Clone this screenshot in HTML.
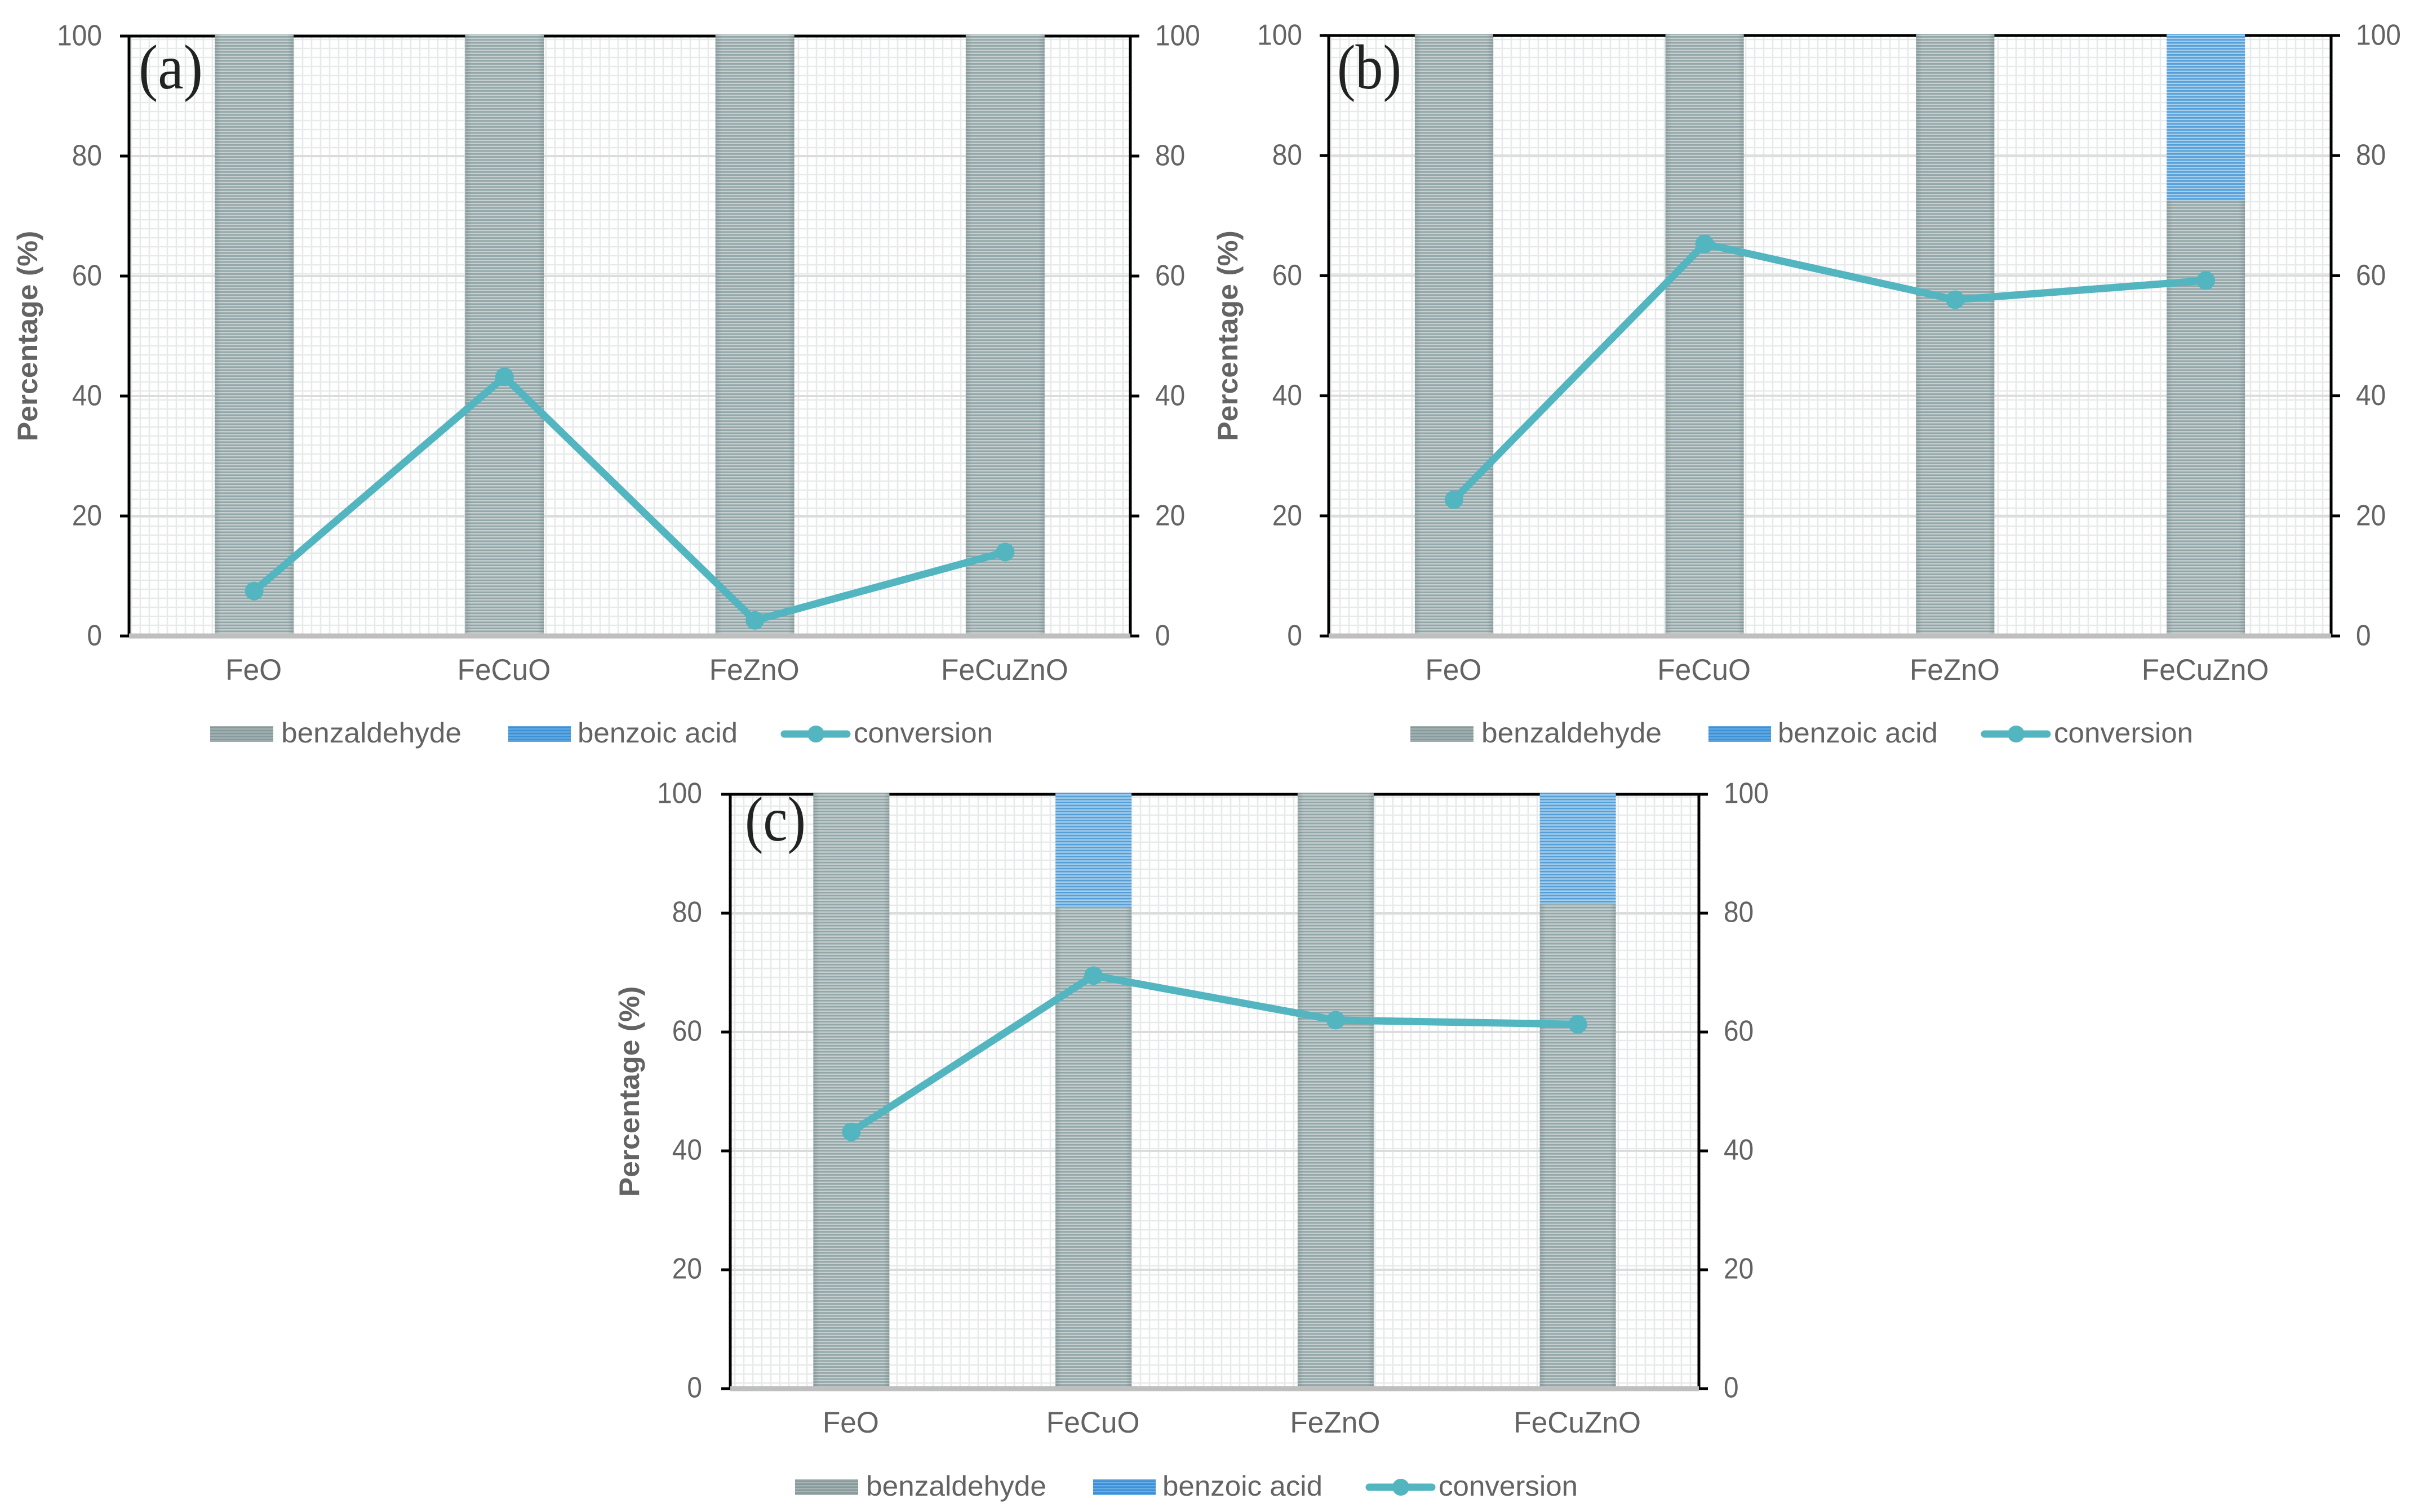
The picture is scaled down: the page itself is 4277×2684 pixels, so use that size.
<!DOCTYPE html>
<html lang="en">
<head>
<meta charset="utf-8">
<title>Benzaldehyde selectivity and conversion charts</title>
<style>
html,body{margin:0;padding:0;background:#fff;}
body{width:4277px;height:2684px;overflow:hidden;}
svg{display:block;}
text{font-family:"Liberation Sans",sans-serif;fill:#636363;}
</style>
</head>
<body>
<svg id="figure" xmlns="http://www.w3.org/2000/svg" width="4277" height="2684" viewBox="0 0 4277 2684">
  <defs>
    <pattern id="stripe-gray" patternUnits="userSpaceOnUse" width="8" height="5.33">
      <rect width="8" height="5.33" fill="#c6d0d0"/>
      <rect width="8" height="2.9" fill="#93a6a8"/>
    </pattern>
    <pattern id="stripe-blue" patternUnits="userSpaceOnUse" width="8" height="5.33">
      <rect width="8" height="5.33" fill="#a8d0ec"/>
      <rect width="8" height="2.9" fill="#559fd9"/>
    </pattern>
    <pattern id="stripe-gray-legend" patternUnits="userSpaceOnUse" width="8" height="5.33">
      <rect width="8" height="5.33" fill="#aab7b7"/>
      <rect width="8" height="3.2" fill="#879a9b"/>
    </pattern>
    <pattern id="stripe-blue-legend" patternUnits="userSpaceOnUse" width="8" height="5.33">
      <rect width="8" height="5.33" fill="#6db1e7"/>
      <rect width="8" height="3.2" fill="#3d8fd6"/>
    </pattern>
    <linearGradient id="bar-edge" x1="0" x2="1" y1="0" y2="0">
      <stop offset="0" stop-color="#5f7577" stop-opacity="0.3"/>
      <stop offset="0.08" stop-color="#5f7577" stop-opacity="0"/>
      <stop offset="0.92" stop-color="#5f7577" stop-opacity="0"/>
      <stop offset="1" stop-color="#5f7577" stop-opacity="0.3"/>
    </linearGradient>
  </defs>
</svg>
<script>
const categories = ['FeO', 'FeCuO', 'FeZnO', 'FeCuZnO'];
const yTickLabels = [0, 20, 40, 60, 80, 100];
const legendLabels = ['benzaldehyde', 'benzoic acid', 'conversion'];
const axisTitle = 'Percentage (%)';

const benzaldehydeA = [100, 100, 100, 100];
const benzoicAcidA = [0, 0, 0, 0];
const conversionA = [7.5, 43.2, 2.6, 14];

const benzaldehydeB = [100, 100, 100, 72.5];
const benzoicAcidB = [0, 0, 0, 27.5];
const conversionB = [22.7, 65.3, 56, 59.2];

const benzaldehydeC = [100, 81, 100, 81.5];
const benzoicAcidC = [0, 19, 0, 18.5];
const conversionC = [43.2, 69.5, 62, 61.3];

const panels = [
  {id: 'a', label: '(a)', left: 229, right: 2006, top: 64, bottom: 1129, barW: 140, gridX: 4, gridY: 3,
   rightLabelGap: 44, leftLabelGap: 48, tickDy: 16.5, titleX: 66, legendX: 373, legendY: 1303, labelX: 246, labelW: 114, labelY: 157,
   base: benzaldehydeA, acid: benzoicAcidA, conv: conversionA},
  {id: 'b', label: '(b)', left: 2358, right: 4137, top: 63, bottom: 1129, barW: 139, gridX: 4, gridY: 3,
   rightLabelGap: 44, leftLabelGap: 47, tickDy: 16.5, titleX: 2196, legendX: 2503, legendY: 1303, labelX: 2373, labelW: 114, labelY: 157,
   base: benzaldehydeB, acid: benzoicAcidB, conv: conversionB},
  {id: 'c', label: '(c)', left: 1296, right: 3015, top: 1410, bottom: 2465, barW: 135, gridX: 8, gridY: 10,
   rightLabelGap: 44, leftLabelGap: 50, tickDy: 15.5, titleX: 1134, legendX: 1411, legendY: 2640, labelX: 1322, labelW: 108, labelY: 1492,
   base: benzaldehydeC, acid: benzoicAcidC, conv: conversionC}
];

const svg = document.getElementById('figure');
const NS = 'http://www.w3.org/2000/svg';

function make(tag, parent, attrs) {
  const el = document.createElementNS(NS, tag);
  for (const k in attrs) el.setAttribute(k, attrs[k]);
  parent.appendChild(el);
  return el;
}

function drawPanel(p) {
  const yScale = v => p.bottom - (v / 100) * (p.bottom - p.top);
  const band = (p.right - p.left) / categories.length;
  const xScale = i => p.left + band * (i + 0.5);

  const g = make('g', svg, {});
  
  

  let minor = '';
  for (let x = p.left + p.gridX; x < p.right; x += 16) minor += 'M' + x + ' ' + p.top + 'V' + p.bottom;
  for (let y = p.bottom - p.gridY; y > p.top; y -= 16) minor += 'M' + p.left + ' ' + y + 'H' + p.right;
  const minorGrid = make('path', g, {d: minor, fill: 'none', stroke: '#e7eaea', 'stroke-width': 2.6});
  
  

  yTickLabels.forEach(v => {
    if (v === 0 || v === 100) return;
    const line = make('line', g, {x1: p.left, x2: p.right, y1: yScale(v), y2: yScale(v), stroke: '#dcdcdc', 'stroke-width': 4});
    
    
  });

  const leftAxis = make('line', g, {x1: p.left, x2: p.left, y1: p.top, y2: p.bottom + 2, stroke: '#000', 'stroke-width': 5});
  
  
  const rightAxis = make('line', g, {x1: p.right, x2: p.right, y1: p.top, y2: p.bottom + 2, stroke: '#000', 'stroke-width': 5});
  
  
  const topAxis = make('line', g, {x1: p.left, x2: p.right, y1: p.top, y2: p.top, stroke: '#000', 'stroke-width': 5});
  
  

  yTickLabels.forEach(v => {
    const y = yScale(v);
    const tl = make('line', g, {x1: p.left - 16, x2: p.left, y1: y, y2: y, stroke: '#000', 'stroke-width': 5});
    
    
    const tr = make('line', g, {x1: p.right, x2: p.right + 16, y1: y, y2: y, stroke: '#000', 'stroke-width': 5});
    
    

    const ll = make('text', g, {'text-anchor': 'end', 'font-size': 52,
      transform: 'translate(' + (p.left - p.leftLabelGap) + ',' + (y + p.tickDy) + ') scale(0.92,1)'});
    ll.textContent = v;
    
    
    const lr = make('text', g, {'text-anchor': 'start', 'font-size': 52,
      transform: 'translate(' + (p.right + p.rightLabelGap) + ',' + (y + p.tickDy) + ') scale(0.92,1)'});
    lr.textContent = v;
    
    
  });

  categories.forEach((c, i) => {
    const cx = xScale(i);
    const x = cx - p.barW / 2;
    const baseTop = yScale(p.base[i]);
    const acidTop = yScale(p.base[i] + p.acid[i]);
    const lift = 3;
    const baseLift = p.acid[i] > 0 ? 0 : lift;
    const baseBar = make('rect', g, {x: x, y: baseTop - baseLift, width: p.barW, height: p.bottom - baseTop + baseLift, fill: 'url(#stripe-gray)'});
    
    
    const edge = make('rect', g, {x: x, y: baseTop - baseLift, width: p.barW, height: p.bottom - baseTop + baseLift, fill: 'url(#bar-edge)'});
    
    
    if (p.acid[i] > 0) {
      const acidBar = make('rect', g, {x: x, y: acidTop - lift, width: p.barW, height: baseTop - acidTop + lift, fill: 'url(#stripe-blue)'});
      
      
    }
    const xl = make('text', g, {'text-anchor': 'middle', 'font-size': 53,
      transform: 'translate(' + (cx - 1) + ',' + (p.bottom + 78) + ') scale(0.97,1)'});
    xl.textContent = c;
    
    
  });

  const baseline = make('line', g, {x1: p.left, x2: p.right, y1: p.bottom, y2: p.bottom, stroke: '#bfbfbf', 'stroke-width': 9});
  
  

  const pts = p.conv.map((v, i) => xScale(i) + ',' + yScale(v)).join(' ');
  const convLine = make('polyline', g, {points: pts, fill: 'none', stroke: '#52b5c0', 'stroke-width': 13, 'stroke-linejoin': 'round'});
  
  
  p.conv.forEach((v, i) => {
    const m = make('circle', g, {cx: xScale(i), cy: yScale(v), r: 16.5, fill: '#52b5c0'});
    
    
  });

  const cy = (p.top + p.bottom) / 2;
  const title = make('text', g, {'text-anchor': 'middle', 'font-size': 50, 'font-weight': 'bold',
    transform: 'translate(' + p.titleX + ',' + cy + ') rotate(-90) scale(1.035,1)'});
  title.textContent = axisTitle;
  
  

  const panelLabel = make('text', g, {x: p.labelX, y: p.labelY, 'font-size': 112, textLength: p.labelW, lengthAdjust: 'spacingAndGlyphs',
    style: 'font-family:"Liberation Serif",serif;fill:#222;'});
  panelLabel.textContent = p.label;
  
  

  const lg = make('g', g, {});
  
  
  const lx = p.legendX, ly = p.legendY;
  const sw1 = make('rect', lg, {x: lx, y: ly - 14, width: 112, height: 28, fill: 'url(#stripe-gray-legend)'});
  
  
  const t1 = make('text', lg, {'font-size': 50, transform: 'translate(' + (lx + 126) + ',' + (ly + 15) + ') scale(1.028,1)'});
  t1.textContent = legendLabels[0];
  
  
  const sw2 = make('rect', lg, {x: lx + 529, y: ly - 14, width: 111, height: 28, fill: 'url(#stripe-blue-legend)'});
  
  
  const t2 = make('text', lg, {'font-size': 50, transform: 'translate(' + (lx + 652) + ',' + (ly + 15) + ') scale(1.022,1)'});
  t2.textContent = legendLabels[1];
  
  
  const sw3 = make('line', lg, {x1: lx + 1019, x2: lx + 1130, y1: ly, y2: ly, stroke: '#52b5c0', 'stroke-width': 13, 'stroke-linecap': 'round'});
  
  
  const sw4 = make('ellipse', lg, {cx: lx + 1075, cy: ly, rx: 15, ry: 15, fill: '#52b5c0'});
  
  
  const t3 = make('text', lg, {'font-size': 50, transform: 'translate(' + (lx + 1142) + ',' + (ly + 15) + ') scale(1.022,1)'});
  t3.textContent = legendLabels[2];
  
  
}

panels.forEach(drawPanel);
</script>
</body>
</html>
